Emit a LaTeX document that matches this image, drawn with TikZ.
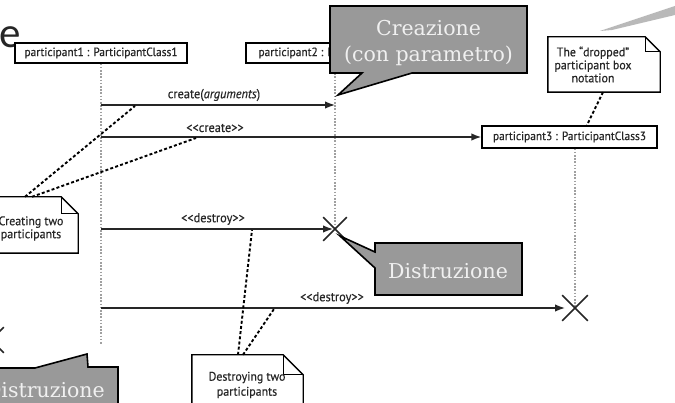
\documentclass[tikz,border=0pt]{standalone}
\usepackage{fontspec}
\usetikzlibrary{arrows.meta,shapes.misc}
\newfontfamily\umlfont[FakeStretch=0.95,FakeBold=0.4]{PT Sans}
\newfontfamily\callfont{DejaVu Serif}
\newfontfamily\headfont{Carlito}
\definecolor{calloutgray}{HTML}{999999}
\definecolor{lifegray}{HTML}{A0A0A0}
\definecolor{inkgray}{HTML}{262626}

\tikzset{
  umltext/.style={font=\umlfont\fontsize{12}{13}\selectfont, text=inkgray, inner sep=0pt},
  msglabel/.style={font=\umlfont\fontsize{13}{14}\selectfont, text=inkgray, inner sep=0pt},
  lifebox/.style={umltext, draw=black, line width=1.4pt, fill=white, minimum height=20pt},
  lifeline/.style={draw=lifegray, line width=1.2pt, dash pattern=on 1.6pt off 1.6pt},
  msg/.style={draw=inkgray, line width=1.5pt, -{Latex[length=10pt,width=7.5pt]}},
  notearea/.style={inner sep=0pt, draw=none},
  notetext/.style={font=\umlfont\fontsize{12.5}{13}\selectfont, text=inkgray, inner sep=0pt, align=center},
  notepath/.style={draw=black, line width=1.4pt, line join=miter},
  notelink/.style={draw=black, line width=1.9pt, dash pattern=on 3pt off 2.2pt},
  killmark/.style={draw=inkgray, line width=1.7pt, cross out, minimum size=22pt, inner sep=0pt},
  callout/.style={draw=black, line width=1.6pt, fill=calloutgray, line join=miter},
  callouttext/.style={font=\callfont\fontsize{20.5}{26}\selectfont, text=white!94!black, align=center, inner sep=0pt},
}

% outline of a note with a folded top-right corner
\newcommand\foldednote[2]{%
  \draw[notepath] (#1.south west) -- (#1.north west) -- ([xshift=-#2]#1.north east)
    -- ([yshift=-#2]#1.north east) -- (#1.south east) -- cycle;
  \draw[notepath] ([xshift=-#2]#1.north east) |- ([yshift=-#2]#1.north east);
}

\begin{document}
\begin{tikzpicture}[x=1pt,y=-1pt]
\useasboundingbox (0,0) rectangle (675,403);
\fill[white] (0,0) rectangle (675,403);

% heading fragment and decorative stroke
\node[font=\headfont\fontsize{43}{43}\selectfont, text=black!85, anchor=base east, inner sep=0pt] (head) at (21,48) {e};
\fill[gray!55] (600,31) -- (675,6) -- (675,15) -- (612,30) -- cycle;

% participants
\node[lifebox, minimum width=172pt] (p1) at (101,53) {participant1 : ParticipantClass1};
\node[lifebox, minimum width=178pt] (p2) at (335,53) {participant2 : ParticipantClass2};
\node[lifebox, minimum width=175pt, minimum height=22pt] (p3) at (569.5,137) {participant3 : ParticipantClass3};

% lifeline ends
\coordinate (l1end) at (101,345);
\coordinate (x1) at (335,229);
\coordinate (x2) at (575,308);
\coordinate (x3) at (-9,340);

% lifelines
\draw[lifeline] (p1.south) -- (l1end);
\draw[lifeline] (p2.south) -- (x1);
\draw[lifeline] (x2 |- p3.south) -- (x2);

% messages
\coordinate (m1s) at (101,105);
\coordinate (m1e) at (335,105);
\coordinate (m2s) at (101,137);
\coordinate (m3s) at (101,229);
\coordinate (m4s) at (101,308);

\draw[msg] (m1s) -- (m1e);
\node[msglabel] (m1lab) at (214,95) {create(\textit{arguments})};
\draw[msg] (m2s) -- (p3.west);
\node[msglabel] (m2lab) at (215,128) {{<}{<}create{>}{>}};
\draw[msg, shorten >=2pt] (m3s) -- (x1);
\node[msglabel] (m3lab) at (213,219) {{<}{<}destroy{>}{>}};
\draw[msg, shorten >=10pt] (m4s) -- (x2);
\node[msglabel] (m4lab) at (332,298) {{<}{<}destroy{>}{>}};

% destruction marks
\node[killmark] (k1) at (x1) {};
\node[killmark, minimum size=24pt] (k2) at (x2) {};
\node[killmark, minimum size=24pt] (k3) at (x3) {};

% notes
\node[notearea, minimum width=112pt, minimum height=55pt] (nA) at (604,64.5) {};
\foldednote{nA}{15pt}
\node[notetext] (nAtext) at ([xshift=-11pt]nA.center) {The “dropped”\\participant box\\notation};

\node[notearea, minimum width=88pt, minimum height=56pt] (nB) at (34,225) {};
\foldednote{nB}{17pt}
\node[notetext] (nBtext) at (31,228.5) {Creating two\\participants};

\node[notearea, minimum width=111pt, minimum height=60pt] (nC) at (247.5,385) {};
\foldednote{nC}{20pt}
\node[notetext, font=\umlfont\fontsize{12.5}{15}\selectfont] (nCtext) at (247,385) {Destroying two\\participants};

% note links
\coordinate (a1) at (135,106);
\coordinate (a2) at (196,138);
\coordinate (a3) at (252,230);
\coordinate (a4) at (274,309);
\coordinate (a5) at (587,125);
\draw[notelink] ([xshift=-9pt]nB.north) -- (a1);
\draw[notelink] ([xshift=-2pt]nB.north) -- (a2);
\draw[notelink] ([xshift=-9.5pt]nC.north) -- (a3);
\draw[notelink] ([xshift=-4.5pt]nC.north) -- (a4);
\draw[notelink] ([xshift=-1pt]nA.south) -- (a5);

% callouts
\draw[callout] (330,6) -- (527,6) -- (527,73) -- (412,73) -- (338,95) -- (362,73) -- (330,73) -- cycle;
\node[callouttext] (c1) at (428.5,43) {Creazione\\(con parametro)};

\draw[callout] (375,243) -- (522,243) -- (522,295) -- (375,295) -- (375,268) -- (340,236) -- (375,252) -- cycle;
\node[callouttext] (c2) at (448,271) {Distruzione};

\draw[callout] (-40,368) -- (35,368) -- (87,354) -- (88,367) -- (118,367) -- (118,420) -- (-40,420) -- cycle;
\node[callouttext, anchor=east] (c3) at (105,390) {Distruzione};
\end{tikzpicture}
\end{document}
